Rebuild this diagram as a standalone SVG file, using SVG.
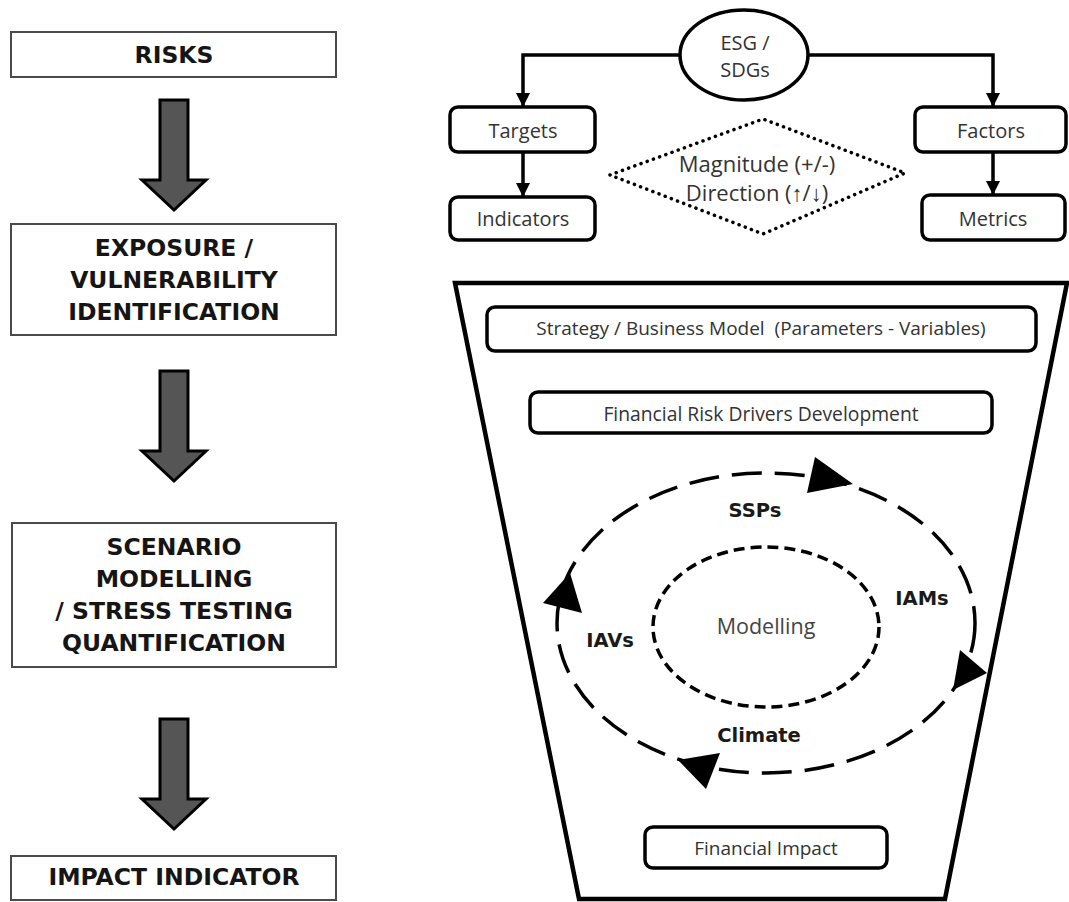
<svg xmlns="http://www.w3.org/2000/svg" width="1069" height="902" viewBox="0 0 1069 902">
<style>
.lbox{fill:#fff;stroke:#4a4a4a;stroke-width:2}
.ltxt{font-family:"DejaVu Sans",sans-serif;font-weight:bold;font-size:23.5px;fill:#151515;text-anchor:middle;dominant-baseline:central}
.bigarrow{fill:#555;stroke:#000;stroke-width:3}
.rbox{fill:#fff;stroke:#000;stroke-width:3.5}
.stxt{font-family:"Open Sans",sans-serif;font-size:20px;fill:#333;text-anchor:middle;dominant-baseline:central}
.conn{fill:none;stroke:#000;stroke-width:3.5}
.cyc{font-family:"DejaVu Sans",sans-serif;font-weight:bold;font-size:19.5px;fill:#1a1a1a;text-anchor:middle;dominant-baseline:central}
.head{fill:#000}
</style>
<defs>
<marker id="ah" markerUnits="userSpaceOnUse" markerWidth="14" markerHeight="14" viewBox="0 0 12 12" refX="12" refY="6" orient="auto">
<path d="M0,0 L12,6 L0,12 Z" fill="#000"/>
</marker>
</defs>

<g id="risks"><rect class="lbox" x="11" y="32" width="325" height="45"/><text class="ltxt" x="174" y="55">RISKS</text></g>
<g id="exposure"><rect class="lbox" x="11" y="224" width="325" height="111"/>
<text class="ltxt" x="174" y="248">EXPOSURE /</text><text class="ltxt" x="174" y="280">VULNERABILITY</text><text class="ltxt" x="174" y="312">IDENTIFICATION</text></g>
<g id="scenario"><rect class="lbox" x="12" y="523" width="324" height="144"/>
<text class="ltxt" x="174" y="547">SCENARIO</text><text class="ltxt" x="174" y="579">MODELLING</text><text class="ltxt" x="174" y="611">/ STRESS TESTING</text><text class="ltxt" x="174" y="643">QUANTIFICATION</text></g>
<g id="impact"><rect class="lbox" x="11" y="856" width="325" height="44"/><text class="ltxt" x="174" y="877">IMPACT INDICATOR</text></g>

<g id="flow-arrows">
<path class="bigarrow" d="M160,100 H188 V180 H206 L174,210 L142,180 H160 Z"/>
<path class="bigarrow" d="M160,371 H188 V451 H206 L174,481 L142,451 H160 Z"/>
<path class="bigarrow" d="M160,719 H188 V799 H206 L174,829 L142,799 H160 Z"/>
</g>

<g id="esg"><ellipse cx="744" cy="55" rx="64" ry="45" fill="#fff" stroke="#000" stroke-width="3.5"/>
<text class="stxt" x="745" y="42" style="font-size:20px">ESG /</text><text class="stxt" x="745" y="69" style="font-size:20px">SDGs</text></g>
<g id="targets"><rect class="rbox" x="450" y="107" width="145" height="45" rx="8"/><text class="stxt" x="523" y="130">Targets</text></g>
<g id="indicators"><rect class="rbox" x="450" y="197" width="145" height="43" rx="8"/><text class="stxt" x="523" y="218">Indicators</text></g>
<g id="factors"><rect class="rbox" x="915" y="107" width="151" height="45" rx="8"/><text class="stxt" x="991" y="130">Factors</text></g>
<g id="metrics"><rect class="rbox" x="922" y="195" width="143" height="45" rx="8"/><text class="stxt" x="993" y="218">Metrics</text></g>
<g id="magnitude"><polygon points="610,175 763,119 905,173 763,234" fill="none" stroke="#000" stroke-width="3.5" stroke-linecap="round" stroke-dasharray="0.1 6.5"/>
<text class="stxt" x="757" y="163" style="font-size:22px">Magnitude (+/-)</text><text class="stxt" x="757" y="192" style="font-size:22px">Direction (↑/↓)</text></g>

<g id="connectors">
<path class="conn" d="M680,55 H523 V107" marker-end="url(#ah)"/>
<path class="conn" d="M808,55 H993 V107" marker-end="url(#ah)"/>
<path class="conn" d="M523,152 V197" marker-end="url(#ah)"/>
<path class="conn" d="M993,152 V195" marker-end="url(#ah)"/>
</g>

<g id="funnel"><polygon points="455,283 1067,283 945,899 579,899" fill="#fff" stroke="#000" stroke-width="4.5" stroke-linejoin="miter"/></g>
<g id="strategy"><rect class="rbox" x="487" y="307" width="549" height="44" rx="8"/><text class="stxt" x="761" y="328" style="font-size:19px;white-space:pre">Strategy / Business Model  (Parameters - Variables)</text></g>
<g id="drivers"><rect class="rbox" x="530" y="392" width="462" height="41" rx="8"/><text class="stxt" x="761" y="413" style="font-size:19.3px">Financial Risk Drivers Development</text></g>
<g id="financial-impact"><rect class="rbox" x="645" y="827" width="242" height="41" rx="8"/><text class="stxt" x="766" y="848" style="font-size:19px">Financial Impact</text></g>

<g id="cycle">
<ellipse cx="766" cy="623" rx="209" ry="150" fill="none" stroke="#000" stroke-width="3.5" stroke-dasharray="30 13"/>
<polygon class="head" points="815,457 807,493 853,484"/>
<polygon class="head" points="960,650 953,690 987,673"/>
<polygon class="head" points="678,760 720,753 706,789"/>
<polygon class="head" points="570,573 543,603 582,613"/>
<text class="cyc" x="755" y="510">SSPs</text>
<text class="cyc" x="922" y="598">IAMs</text>
<text class="cyc" x="610" y="640">IAVs</text>
<text class="cyc" x="759" y="735">Climate</text>
</g>
<g id="modelling"><ellipse cx="766" cy="627" rx="113" ry="80" fill="none" stroke="#000" stroke-width="3.5" stroke-dasharray="11 6"/>
<text class="stxt" x="766" y="625" style="font-size:21.5px;fill:#444">Modelling</text></g>
</svg>
